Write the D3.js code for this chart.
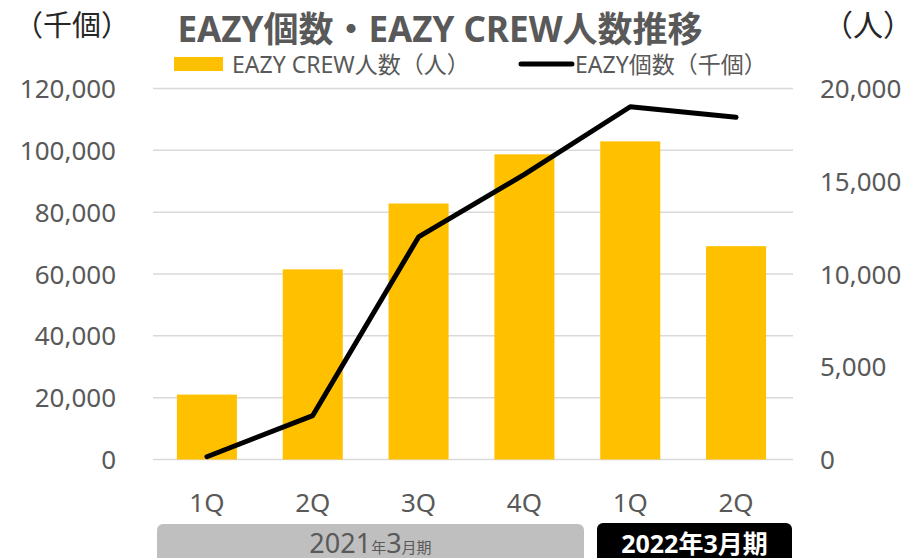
<!DOCTYPE html>
<html>
<head>
<meta charset="utf-8">
<script src="https://cdn.jsdelivr.net/npm/d3@7"></script>
<style>
  body { margin: 0; background: #fff; }
  svg text { font-family: "Noto Sans", "Noto Sans CJK JP", sans-serif; }
</style>
</head>
<body>
<div class="chart"></div>
<script>
// quarters on the x axis
var quarters = ['1Q', '2Q', '3Q', '4Q', '1Q', '2Q'];
// EAZY CREW人数 (人) - bars, right axis
var crewCount = [3500, 10250, 13800, 16450, 17150, 11500];
// EAZY個数 (千個) - line, left axis
var eazyCount = [900, 14200, 72000, 92200, 114100, 110700];
var leftTicks = [0, 20000, 40000, 60000, 80000, 100000, 120000];
var rightTicks = [0, 5000, 10000, 15000, 20000];
var periods = [
    { label: '2021', year: '年', month: '3', suffix: '月期', from: 0, to: 3 },
    { label: '2022', year: '年', month: '3', suffix: '月期', from: 4, to: 5 }
];

var width = 924, height = 558;
var svg = d3.select('.chart')
    .append('svg')
    .attr('width', width)
    .attr('height', height);

var x = d3.scaleBand()
    .domain(d3.range(quarters.length))
    .range([154, 789])
    .paddingInner(0.433)
    .paddingOuter(0.2165);
var yL = d3.scaleLinear().domain([0, 120000]).range([459.5, 88.5]);
var yR = d3.scaleLinear().domain([0, 20000]).range([459.5, 88.5]);

// gridlines
svg.append('g').selectAll('line').data(leftTicks).enter()
    .append('line')
    .attr('x1', 153).attr('x2', 793)
    .attr('y1', function (d) { return yL(d); })
    .attr('y2', function (d) { return yL(d); })
    .attr('stroke', '#d9d9d9')
    .attr('stroke-width', 1.5);

// bars
svg.append('g').selectAll('rect').data(crewCount).enter()
    .append('rect')
    .attr('x', function (d, i) { return x(i); })
    .attr('width', x.bandwidth())
    .attr('y', function (d) { return yR(d); })
    .attr('height', function (d) { return yR(0) - yR(d); })
    .attr('fill', '#ffc000');

// line
var line = d3.line()
    .x(function (d, i) { return x(i) + x.bandwidth() / 2; })
    .y(function (d) { return yL(d); });
svg.append('path')
    .datum(eazyCount)
    .attr('d', line)
    .attr('fill', 'none')
    .attr('stroke', '#000')
    .attr('stroke-width', 5)
    .attr('stroke-linecap', 'round')
    .attr('stroke-linejoin', 'round');

// axes
var fmt = d3.format(',');
var leftAxis = svg.append('g')
    .attr('transform', 'translate(116,0)')
    .call(d3.axisLeft(yL).tickValues(leftTicks).tickFormat(fmt).tickSize(0).tickPadding(0));
var rightAxis = svg.append('g')
    .attr('transform', 'translate(820,0)')
    .call(d3.axisRight(yR).tickValues(rightTicks).tickFormat(fmt).tickSize(0).tickPadding(0));
var bottomAxis = svg.append('g')
    .attr('transform', 'translate(0,512)')
    .call(d3.axisBottom(x).tickFormat(function (i) { return quarters[i]; }).tickSize(0).tickPadding(0));
bottomAxis.selectAll('text').attr('y', 0).attr('dy', null);

[leftAxis, rightAxis, bottomAxis].forEach(function (g) {
    g.select('.domain').remove();
    g.selectAll('text')
        .attr('fill', '#595959')
        .style('font-size', '26px');
});
leftAxis.selectAll('text').attr('dy', '0.35em');
rightAxis.selectAll('text').attr('dy', '0.35em');

// unit labels
svg.append('text').text('（千個）')
    .attr('x', 72).attr('y', 36)
    .attr('text-anchor', 'middle')
    .attr('fill', '#262626')
    .style('font-size', '29px');
svg.append('text').text('（人）')
    .attr('x', 868).attr('y', 36)
    .attr('text-anchor', 'middle')
    .attr('fill', '#262626')
    .style('font-size', '30px');

// title
svg.append('text').text('EAZY個数・EAZY CREW人数推移')
    .attr('x', 440).attr('y', 42)
    .attr('text-anchor', 'middle')
    .attr('fill', '#595959')
    .style('font-size', '35px')
    .style('font-weight', 'bold');

// legend
svg.append('rect')
    .attr('x', 174).attr('y', 57).attr('width', 49).attr('height', 14)
    .attr('fill', '#ffc000');
svg.append('text').text('EAZY CREW人数（人）')
    .attr('x', 232).attr('y', 73)
    .attr('fill', '#595959')
    .style('font-size', '23px');
svg.append('line')
    .attr('x1', 521).attr('x2', 572).attr('y1', 64).attr('y2', 64)
    .attr('stroke', '#000').attr('stroke-width', 5).attr('stroke-linecap', 'round');
svg.append('text').text('EAZY個数（千個）')
    .attr('x', 575).attr('y', 73)
    .attr('fill', '#595959')
    .style('font-size', '23px');

// fiscal period boxes
var boxL = [157, 597], boxR = [584, 792];
var boxFill = ['#bfbfbf', '#000'], boxText = ['#595959', '#fff'], boxWeight = ['normal', 'bold'];
var pg = svg.append('g').selectAll('g').data(periods).enter().append('g');
pg.append('rect')
    .attr('x', function (d, i) { return boxL[i]; })
    .attr('y', function (d, i) { return i === 0 ? 524 : 523; })
    .attr('width', function (d, i) { return boxR[i] - boxL[i]; })
    .attr('height', 50)
    .attr('rx', 6)
    .attr('fill', function (d, i) { return boxFill[i]; });
var pt = pg.append('text')
    .attr('x', function (d, i) { return (boxL[i] + boxR[i]) / 2; })
    .attr('y', 553)
    .attr('text-anchor', 'middle')
    .attr('fill', function (d, i) { return boxText[i]; })
    .style('font-weight', function (d, i) { return boxWeight[i]; });
pt.append('tspan').text(function (d) { return d.label; })
    .style('font-size', function (d, i) { return i === 0 ? '27px' : '25px'; });
pt.append('tspan').text(function (d) { return d.year; })
    .style('font-size', function (d, i) { return i === 0 ? '15px' : '25px'; });
pt.append('tspan').text(function (d) { return d.month; })
    .style('font-size', function (d, i) { return i === 0 ? '27px' : '25px'; });
pt.append('tspan').text(function (d) { return d.suffix; })
    .style('font-size', function (d, i) { return i === 0 ? '15px' : '25px'; });
</script>
</body>
</html>
